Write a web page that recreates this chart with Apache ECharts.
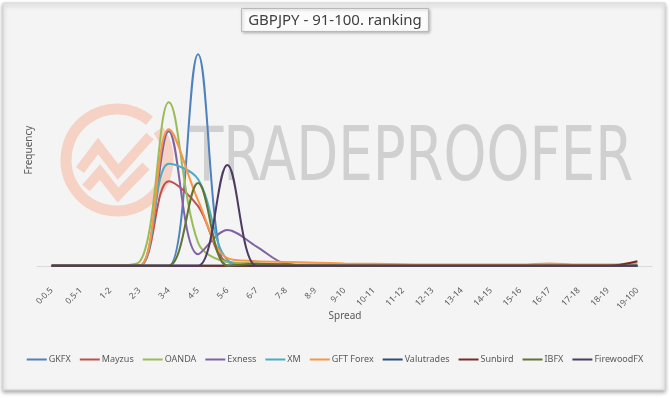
<!DOCTYPE html>
<html>
<head>
<meta charset="utf-8">
<script src="https://cdn.jsdelivr.net/npm/echarts@6/dist/echarts.min.js"></script>
<style>
  html, body { margin: 0; padding: 0; background: #ffffff; }
  #chart { width: 670px; height: 398px; }
</style>
</head>
<body>
<div id="chart"></div>
<script>
// spread buckets
const categories = ['0-0.5', '0.5-1', '1-2', '2-3', '3-4', '4-5', '5-6', '6-7', '7-8', '8-9', '9-10',
  '10-11', '11-12', '12-13', '13-14', '14-15', '15-16', '16-17', '17-18', '18-19', '19-100']

// frequency per broker
const gkfx       = [0, 0, 0, 0, 0, 0.55, 0, 0, 0, 0, 0, 0, 0, 0, 0, 0, 0, 0, 0, 0, 0]
const mayzus     = [0, 0, 0, 0, 0.22, 0.155, 0.01, 0.005, 0.003, 0, 0, 0, 0, 0, 0, 0, 0, 0, 0, 0, 0]
const oanda      = [0, 0, 0, 0.01, 0.425, 0.06, 0.01, 0.006, 0.004, 0.003, 0.003, 0.003, 0.002, 0, 0, 0, 0, 0, 0, 0, 0]
const exness     = [0, 0, 0, 0, 0.35, 0.03, 0.093, 0.05, 0.005, 0, 0, 0, 0, 0, 0, 0, 0, 0, 0, 0, 0]
const xm         = [0, 0, 0, 0, 0.265, 0.225, 0.015, 0, 0, 0, 0, 0, 0, 0, 0, 0, 0, 0, 0, 0, 0]
const gftForex   = [0, 0, 0, 0, 0.355, 0.17, 0.02, 0.012, 0.01, 0.008, 0.006, 0.005, 0.004, 0.003, 0.003, 0.003, 0.003, 0.006, 0.003, 0.003, 0.008]
const valutrades = [0, 0, 0, 0, 0, 0, 0, 0, 0, 0, 0, 0, 0, 0, 0, 0, 0, 0, 0, 0, 0]
const sunbird    = [0, 0, 0, 0, 0, 0, 0, 0, 0, 0, 0, 0, 0, 0, 0, 0, 0, 0, 0, 0, 0.012]
const ibfx       = [0, 0, 0, 0, 0, 0.215, 0, 0.005, 0.003, 0, 0, 0, 0, 0, 0, 0, 0, 0, 0, 0, 0]
const firewoodFx = [0, 0, 0, 0, 0, 0, 0.262, 0, 0, 0, 0, 0, 0, 0, 0, 0, 0, 0, 0, 0, 0]

const brokers = [
  { name: 'GKFX', data: gkfx, color: '#4F81BD' },
  { name: 'Mayzus', data: mayzus, color: '#C0504D' },
  { name: 'OANDA', data: oanda, color: '#9BBB59' },
  { name: 'Exness', data: exness, color: '#8064A2' },
  { name: 'XM', data: xm, color: '#4BACC6' },
  { name: 'GFT Forex', data: gftForex, color: '#F79646' },
  { name: 'Valutrades', data: valutrades, color: '#2C4D75' },
  { name: 'Sunbird', data: sunbird, color: '#772C2A' },
  { name: 'IBFX', data: ibfx, color: '#5F7530' },
  { name: 'FirewoodFX', data: firewoodFx, color: '#4D3B62' },
]

const font = "'Noto Sans', 'Open Sans', sans-serif"
const myChart = echarts.init(document.getElementById('chart'))

myChart.setOption({
  animation: false,
  textStyle: { fontFamily: font },
  title: {
    text: 'GBPJPY - 91-100. ranking',
    left: 'center',
    top: 8,
    padding: [5, 7, 4, 7],
    backgroundColor: '#fbfbfb',
    borderColor: '#b8b8b8',
    borderWidth: 1,
    shadowColor: 'rgba(0,0,0,0.25)',
    shadowBlur: 3,
    shadowOffsetX: 1,
    shadowOffsetY: 1,
    textStyle: { fontFamily: font, fontSize: 15, fontWeight: 'normal', color: '#404040' },
  },
  graphic: [
    {
      type: 'rect',
      z: -10,
      silent: true,
      shape: { x: 3, y: 3, width: 662, height: 387 },
      style: { fill: '#f4f4f4', stroke: '#d6d6d6', lineWidth: 1, shadowColor: 'rgba(0,0,0,0.35)', shadowBlur: 4, shadowOffsetY: 2 },
    },
    // watermark logo
    {
      type: 'arc',
      z: -5,
      silent: true,
      shape: { cx: 117, cy: 160, r: 51, startAngle: -Math.PI * 0.2, endAngle: Math.PI * 1.72 },
      style: { stroke: '#f5d2c4', lineWidth: 11, fill: null },
    },
    {
      type: 'polyline',
      z: -5,
      silent: true,
      shape: { points: [[80, 170], [98, 146], [118, 172], [150, 136]] },
      style: { stroke: '#f5d2c4', lineWidth: 10, fill: null },
    },
    {
      type: 'polyline',
      z: -5,
      silent: true,
      shape: { points: [[86, 188], [100, 172], [118, 195], [146, 166]] },
      style: { stroke: '#f5d2c4', lineWidth: 10, fill: null },
    },
    {
      type: 'text',
      z: -5,
      silent: true,
      left: 190,
      top: 124,
      style: { text: 'TRADEPROOFER', fontSize: 74, fontFamily: "'DejaVu Sans Condensed', sans-serif", fill: '#d0d0d0' },
      scaleX: 0.82,
    },
    // x axis title
    {
      type: 'text',
      silent: true,
      x: 345,
      y: 316,
      style: { text: 'Spread', fontSize: 10, fontFamily: font, fill: '#595959', align: 'center', verticalAlign: 'middle' },
    },
  ],
  legend: {
    bottom: 29,
    left: 'center',
    icon: 'rect',
    itemWidth: 20,
    itemHeight: 2,
    itemGap: 9,
    textStyle: { fontFamily: font, fontSize: 9, color: '#595959', padding: [0, 0, 0, -3] },
    data: brokers.map(b => b.name),
  },
  grid: { left: 37, right: 18, top: 35, bottom: 113, outerBoundsMode: 'none' },
  xAxis: {
    type: 'category',
    data: categories,
    boundaryGap: true,
    axisLine: { lineStyle: { color: '#d9d9d9', width: 1 } },
    axisTick: { show: false },
    axisLabel: { rotate: 45, fontSize: 8.5, color: '#595959', margin: 4, interval: 0 },
  },
  yAxis: {
    type: 'value',
    min: -0.05,
    max: 0.6,
    name: 'Frequency',
    nameLocation: 'middle',
    nameGap: 3,
    nameTextStyle: { fontFamily: font, fontSize: 10, color: '#595959', padding: [0, 0, 0, 20] },
    axisLine: { show: false },
    axisTick: { show: false },
    axisLabel: { show: false },
    splitLine: { show: false },
  },
  series: brokers.map(b => ({
    name: b.name,
    type: 'line',
    data: b.data,
    smooth: 0.35,
    symbol: 'none',
    color: b.color,
    lineStyle: { width: 2, color: b.color },
  })),
})
</script>
</body>
</html>
